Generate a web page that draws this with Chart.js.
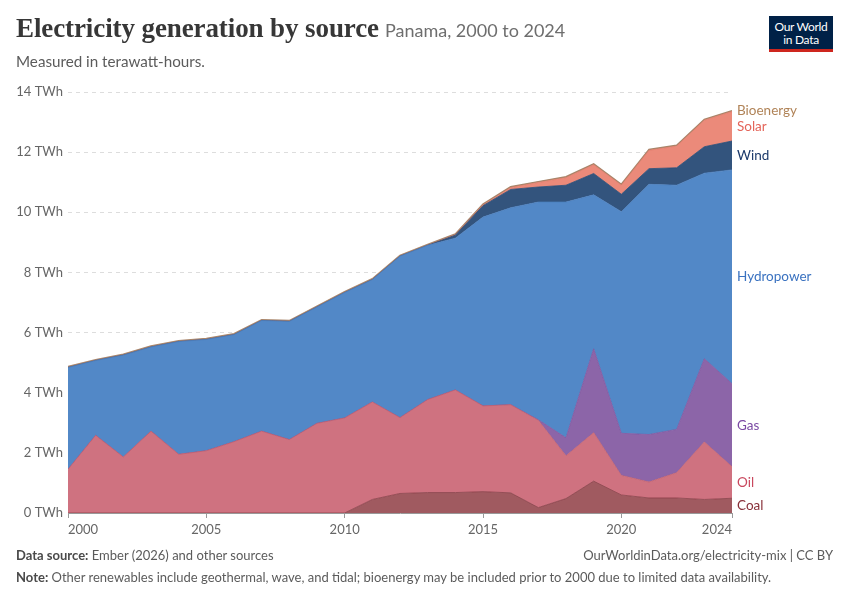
<!DOCTYPE html>
<html>
<head>
<meta charset="utf-8">
<script src="https://cdn.jsdelivr.net/npm/chart.js@4.4.1/dist/chart.umd.min.js"></script>
<style>
  html, body { margin:0; padding:0; background:#fff; }
  body { width:850px; height:600px; position:relative; overflow:hidden; font-family: Lato, "Noto Sans", sans-serif; }
  #wrap { position:absolute; left:0; top:0; width:850px; height:600px; }
  .title { position:absolute; left:16px; top:13px; white-space:nowrap; }
  .title .main { font-family:"Liberation Serif", serif; font-weight:bold; font-size:27px; color:#373737; letter-spacing:-0.1px; }
  .title .sub { font-family:Lato, sans-serif; font-size:18px; color:#6e6e6e; margin-left:6px; }
  .subtitle { position:absolute; left:16px; top:52px; font-size:15.2px; color:#5b5b5b; }
  .logo { position:absolute; left:769px; top:16px; width:64px; height:36px; background:#002147; border-bottom:3px solid #ce261e; box-sizing:border-box; color:#fff; font-size:12px; line-height:13px; text-align:center; padding-top:4px; letter-spacing:-0.3px; }
  .foot1 { position:absolute; left:16px; top:547px; font-size:13px; color:#5b5b5b; }
  .foot1r { position:absolute; right:17px; top:547px; font-size:13px; color:#5b5b5b; }
  .foot2 { position:absolute; left:16px; top:569px; font-size:13px; color:#5b5b5b; }
  b { color:#4a4a4a; font-weight:bold; }
</style>
</head>
<body>
<div id="wrap"><canvas id="c" width="850" height="600"></canvas></div>
<div class="title"><span class="main">Electricity generation by source</span><span class="sub">Panama, 2000 to 2024</span></div>
<div class="subtitle">Measured in terawatt-hours.</div>
<div class="logo">Our World<br>in Data</div>
<div class="foot1"><b>Data source:</b> Ember (2026) and other sources</div>
<div class="foot1r">OurWorldinData.org/electricity-mix | CC BY</div>
<div class="foot2"><b>Note:</b> Other renewables include geothermal, wave, and tidal; bioenergy may be included prior to 2000 due to limited data availability.</div>
<script>
const years = [2000,2001,2002,2003,2004,2005,2006,2007,2008,2009,2010,2011,2012,2013,2014,2015,2016,2017,2018,2019,2020,2021,2022,2023,2024];
const coal  = [0,0,0,0,0,0,0,0,0,0,0,0.45,0.65,0.68,0.68,0.71,0.67,0.18,0.48,1.06,0.60,0.50,0.50,0.45,0.49];
const oil   = [1.45,2.58,1.86,2.72,1.95,2.07,2.37,2.72,2.44,2.98,3.16,3.24,2.52,3.09,3.41,2.85,2.93,2.90,1.42,1.61,0.65,0.53,0.84,1.91,1.05];
const gas   = [0,0,0,0,0,0,0,0,0,0,0,0,0,0,0,0,0,0.02,0.60,2.79,1.40,1.58,1.44,2.77,2.76];
const hydro = [3.39,2.49,3.39,2.80,3.75,3.70,3.56,3.68,3.93,3.87,4.17,4.07,5.37,5.13,5.05,6.28,6.55,7.24,7.84,5.12,7.37,8.32,8.12,6.17,7.11];
const wind  = [0,0,0,0,0,0,0,0,0,0,0,0,0,0,0.10,0.38,0.61,0.50,0.56,0.71,0.58,0.52,0.58,0.88,0.96];
const solar = [0,0,0,0,0,0,0,0,0,0,0,0,0,0,0.01,0.02,0.06,0.15,0.25,0.29,0.30,0.61,0.72,0.88,0.98];
const bio   = [0.03,0.03,0.03,0.03,0.03,0.03,0.03,0.03,0.03,0.03,0.03,0.03,0.03,0.03,0.03,0.03,0.03,0.03,0.03,0.03,0.03,0.03,0.03,0.03,0.03];
const xTicks = [2000,2005,2010,2015,2020,2024];
const yTicks = [0,2,4,6,8,10,12,14];

const series = [
  {name:'Coal', data:coal, fill:'#a05a60', line:'#8a3f47', label:'#883039'},
  {name:'Oil', data:oil, fill:'#cf7280', line:'#c0606f', label:'#c9485e'},
  {name:'Gas', data:gas, fill:'#8c65a8', line:'#7d55a0', label:'#7b4aa4'},
  {name:'Hydropower', data:hydro, fill:'#5288c7', line:'#4a7dbd', label:'#3a72c0'},
  {name:'Wind', data:wind, fill:'#33547d', line:'#2c4a72', label:'#1c3a6b'},
  {name:'Solar', data:solar, fill:'#eb8a7a', line:'#e27b6b', label:'#e4655a'},
  {name:'Bioenergy', data:bio, fill:'#c4a07c', line:'#a8856a', label:'#b08357'}
];

const datasets = series.map((s, i) => ({
  label: s.name,
  data: years.map((y, j) => ({x: y, y: s.data[j]})),
  backgroundColor: s.fill,
  borderColor: s.line,
  borderWidth: s.name === 'Bioenergy' ? 1.5 : 0.8,
  pointRadius: 0,
  pointHoverRadius: 0,
  tension: 0,
  fill: i === 0 ? 'origin' : '-1'
}));

const endLabels = {
  id: 'endLabels',
  afterDatasetsDraw(chart) {
    const ctx = chart.ctx;
    const ys = chart.scales.y;
    const last = years.length - 1;
    let cum = 0;
    const items = series.map(s => {
      const v = s.data[last];
      const mid = cum + v / 2;
      cum += v;
      return {name: s.name, color: s.label, y: ys.getPixelForValue(mid)};
    });
    items.sort((a, b) => a.y - b.y);
    const gap = 15;
    for (let i = 1; i < items.length; i++) {
      if (items[i].y - items[i-1].y < gap) items[i].y = items[i-1].y + gap;
    }
    ctx.save();
    ctx.font = '13.5px Lato, sans-serif';
    ctx.textBaseline = 'middle';
    ctx.textAlign = 'left';
    items.forEach(it => {
      ctx.fillStyle = it.color;
      ctx.fillText(it.name, chart.chartArea.right + 5, it.y);
    });
    ctx.restore();
  }
};

new Chart(document.getElementById('c'), {
  type: 'line',
  data: { datasets },
  plugins: [endLabels],
  options: {
    responsive: false,
    animation: false,
    events: [],
    layout: { padding: { left: 16, top: 92, right: 118, bottom: 57 } },
    plugins: { legend: { display: false }, tooltip: { enabled: false }, title: { display: false } },
    scales: {
      x: {
        type: 'linear',
        min: 2000, max: 2024,
        afterBuildTicks: sc => { sc.ticks = xTicks.map(v => ({value: v})); },
        afterFit: sc => { sc.height = 30; },
        ticks: { callback: v => String(v), color: '#666', font: { family: 'Lato', size: 13 }, padding: 4, maxRotation: 0, autoSkip: false, align: 'inner' },
        grid: { display: true, drawOnChartArea: false, drawTicks: true, tickLength: 5, color: '#999' },
        border: { display: true, color: '#999', width: 1 }
      },
      y: {
        stacked: true,
        min: 0, max: 14,
        afterBuildTicks: sc => { sc.ticks = yTicks.map(v => ({value: v})); },
        afterFit: sc => { sc.width = 52; },
        ticks: { callback: v => v + ' TWh', color: '#666', font: { family: 'Lato', size: 13 }, padding: 5 },
        grid: { color: '#dddddd', lineWidth: 1, drawTicks: false },
        border: { display: false, dash: [4, 4] }
      }
    }
  }
});
</script>
</body>
</html>
